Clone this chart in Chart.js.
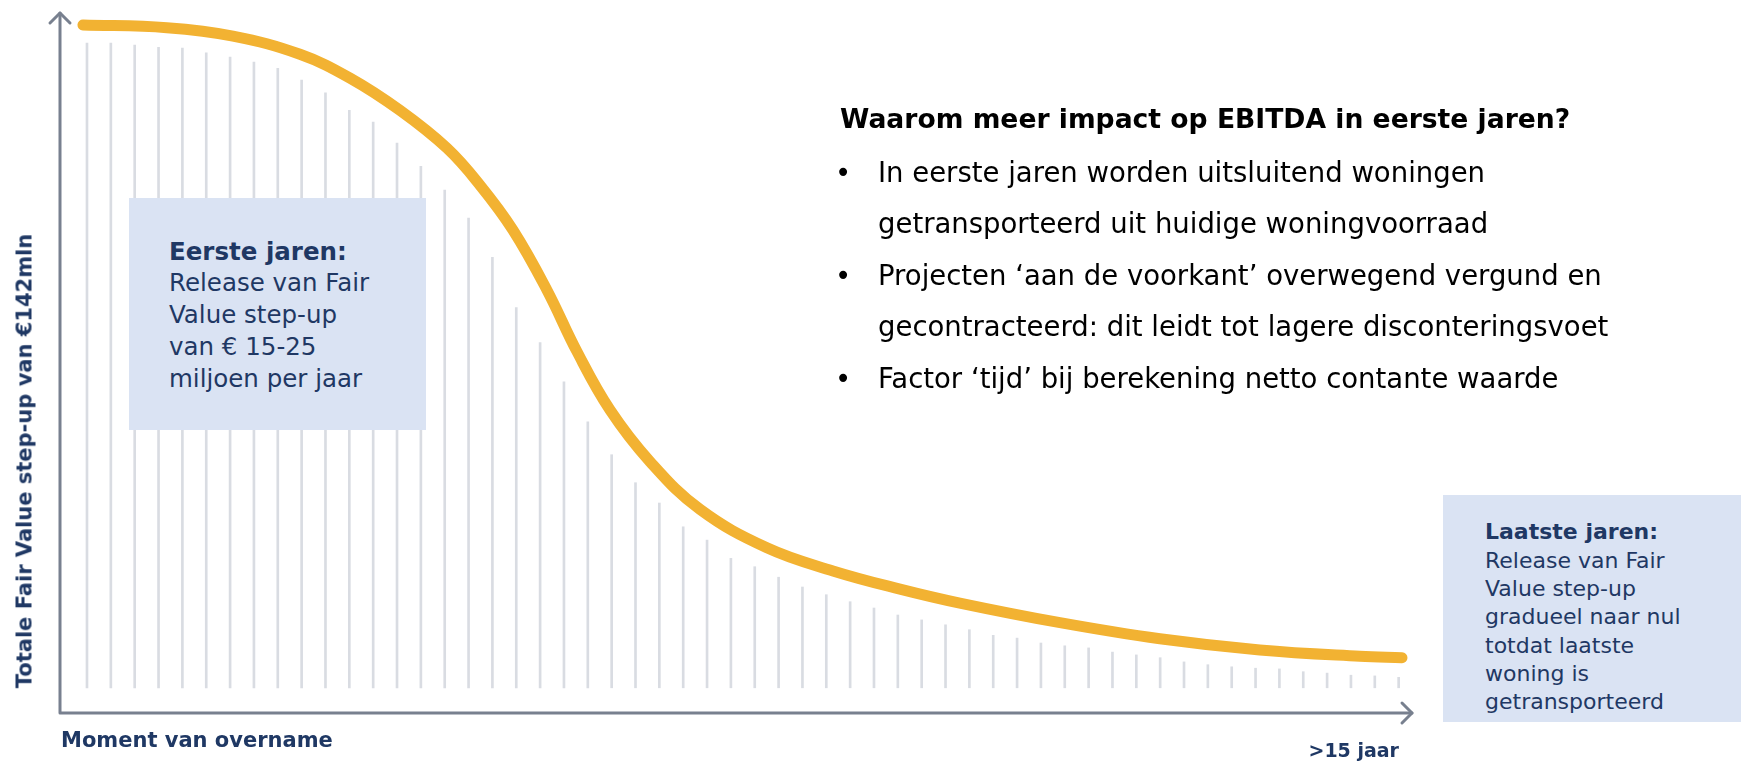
<!DOCTYPE html>
<html>
<head>
<meta charset="utf-8">
<script src="https://cdn.jsdelivr.net/npm/chart.js@4.4.1/dist/chart.umd.min.js"></script>
<style>
  html, body { margin: 0; padding: 0; background: #ffffff; overflow: hidden; }
  #wrap { position: relative; width: 1741px; height: 761px; }
  canvas { position: absolute; left: 0; top: 0; }
  .txt { position: absolute; white-space: nowrap; font-family: "DejaVu Sans", Verdana, sans-serif; }
  .navy { color: #1f3864; }
  .box { position: absolute; background: #dae3f3; box-sizing: border-box; }
  .b { font-weight: bold; }
</style>
</head>
<body>
<div id="wrap">
  <canvas id="c" width="1741" height="761"></canvas>

  <div class="box" style="left:129px; top:198px; width:297px; height:232px;"></div>
  <div class="txt navy" style="left:169px; top:235.6px; font-size:24.5px; line-height:31.75px;">
    <span class="b">Eerste jaren:</span><br>Release van Fair<br>Value step-up<br>van € 15-25<br>miljoen per jaar
  </div>

  <div class="box" style="left:1443px; top:495px; width:298px; height:227px;"></div>
  <div class="txt navy" style="left:1485px; top:518.2px; font-size:22px; line-height:28.33px;">
    <span class="b">Laatste jaren:</span><br>Release van Fair<br>Value step-up<br>gradueel naar nul<br>totdat laatste<br>woning is<br>getransporteerd
  </div>

  <div class="txt b" style="left:840px; top:105.5px; font-size:26.6px; line-height:26.6px; color:#000;">Waarom meer impact op EBITDA in eerste jaren?</div>
  <div class="txt" style="left:835px; top:146.7px; font-size:27.5px; line-height:51.5px; color:#000;">•<br><br>•<br><br>•</div>
  <div class="txt" style="left:878px; top:146.7px; font-size:27.5px; line-height:51.5px; color:#000;">In eerste jaren worden uitsluitend woningen<br>getransporteerd uit huidige woningvoorraad<br>Projecten ‘aan de voorkant’ overwegend vergund en<br>gecontracteerd: dit leidt tot lagere disconteringsvoet<br>Factor ‘tijd’ bij berekening netto contante waarde</div>

  <div class="txt b navy" id="ytitle" style="left:25px; top:461px; font-size:21px; line-height:21px; transform: translate(-50%,-50%) rotate(-90deg);">Totale Fair Value step-up van €142mln</div>
  <div class="txt b navy" style="left:61px; top:730px; font-size:21px; line-height:21px;">Moment van overname</div>
  <div class="txt b navy" style="right:342px; top:741px; font-size:19px; line-height:19px;">&gt;15 jaar</div>
</div>

<script>
// Curve (release profile), x in period index, y as % of total step-up
const curveX = [-0.17, 3.35, 6.12, 8.93, 11.03, 13.12, 15.09, 16.48, 17.86, 19.29, 20.55, 21.93, 23.61, 25.70, 28.51, 31.28, 34.09, 36.60, 40.80, 44.99, 49.18, 53.37, 55.14];
const curveY = [98.3, 97.9, 96.7, 94.1, 90.7, 86.1, 80.7, 75.4, 69.0, 60.4, 51.6, 43.3, 35.9, 29.1, 23.6, 20.3, 17.7, 15.7, 12.9, 10.6, 9.0, 8.1, 7.9];

// Vertical hatch lines (periods 0..55): top value of each line
const periods = Array.from({length: 56}, (_, i) => i);
const lineTops = [95.7, 95.7, 95.4, 95.1, 95.0, 94.3, 93.7, 93.0, 92.1, 90.4,
                  88.6, 86.1, 84.4, 81.4, 78.1, 74.7, 70.7, 65.1, 57.9, 52.9,
                  47.3, 41.6, 36.9, 32.9, 30.0, 26.6, 24.7, 22.1, 20.9, 19.4,
                  18.0, 16.9, 15.9, 15.0, 14.0, 13.3, 12.6, 11.9, 11.1, 10.7,
                  10.0, 9.6, 9.3, 8.7, 8.3, 7.9, 7.3, 6.9, 6.6, 6.4,
                  6.3, 5.9, 5.7, 5.4, 5.3, 5.1];
const lineBase = 3.6;

const axisMin = { x: -1.132, y: 0 };
const axisMax = { x: 55.56, y: 100 };

const curveData = curveX.map((x, i) => ({ x: x, y: curveY[i] }));
const barData = periods.map((p, i) => ({ x: p, y: [lineBase, lineTops[i]] }));

const axesPlugin = {
  id: 'arrowAxes',
  afterDatasetsDraw(chart) {
    const { ctx, chartArea: a } = chart;
    ctx.save();
    ctx.strokeStyle = '#78808f';
    ctx.lineWidth = 3;
    ctx.lineCap = 'round';
    ctx.lineJoin = 'round';
    ctx.beginPath();
    ctx.moveTo(a.left, a.top);
    ctx.lineTo(a.left, a.bottom);
    ctx.lineTo(a.right, a.bottom);
    ctx.stroke();
    ctx.beginPath();
    ctx.moveTo(a.left - 10, a.top + 10);
    ctx.lineTo(a.left, a.top);
    ctx.lineTo(a.left + 10, a.top + 10);
    ctx.moveTo(a.right - 10, a.bottom - 10);
    ctx.lineTo(a.right, a.bottom);
    ctx.lineTo(a.right - 10, a.bottom + 10);
    ctx.stroke();
    ctx.restore();
  }
};

new Chart(document.getElementById('c'), {
  data: {
    datasets: [
      {
        type: 'line',
        data: curveData,
        borderColor: '#f2b232',
        borderWidth: 11,
        borderCapStyle: 'round',
        pointRadius: 0,
        tension: 0.4,
        fill: false,
        clip: false,
        order: 0
      },
      {
        type: 'bar',
        data: barData,
        backgroundColor: '#d9dce2',
        borderWidth: 0,
        barThickness: 2,
        order: 1
      }
    ]
  },
  options: {
    responsive: false,
    animation: false,
    events: [],
    layout: { padding: { left: 60, right: 329, top: 13, bottom: 48 } },
    plugins: { legend: { display: false }, tooltip: { enabled: false }, title: { display: false } },
    scales: {
      x: { type: 'linear', min: axisMin.x, max: axisMax.x, offset: false, display: false },
      y: { type: 'linear', min: axisMin.y, max: axisMax.y, offset: false, display: false }
    }
  },
  plugins: [axesPlugin]
});
</script>
</body>
</html>
